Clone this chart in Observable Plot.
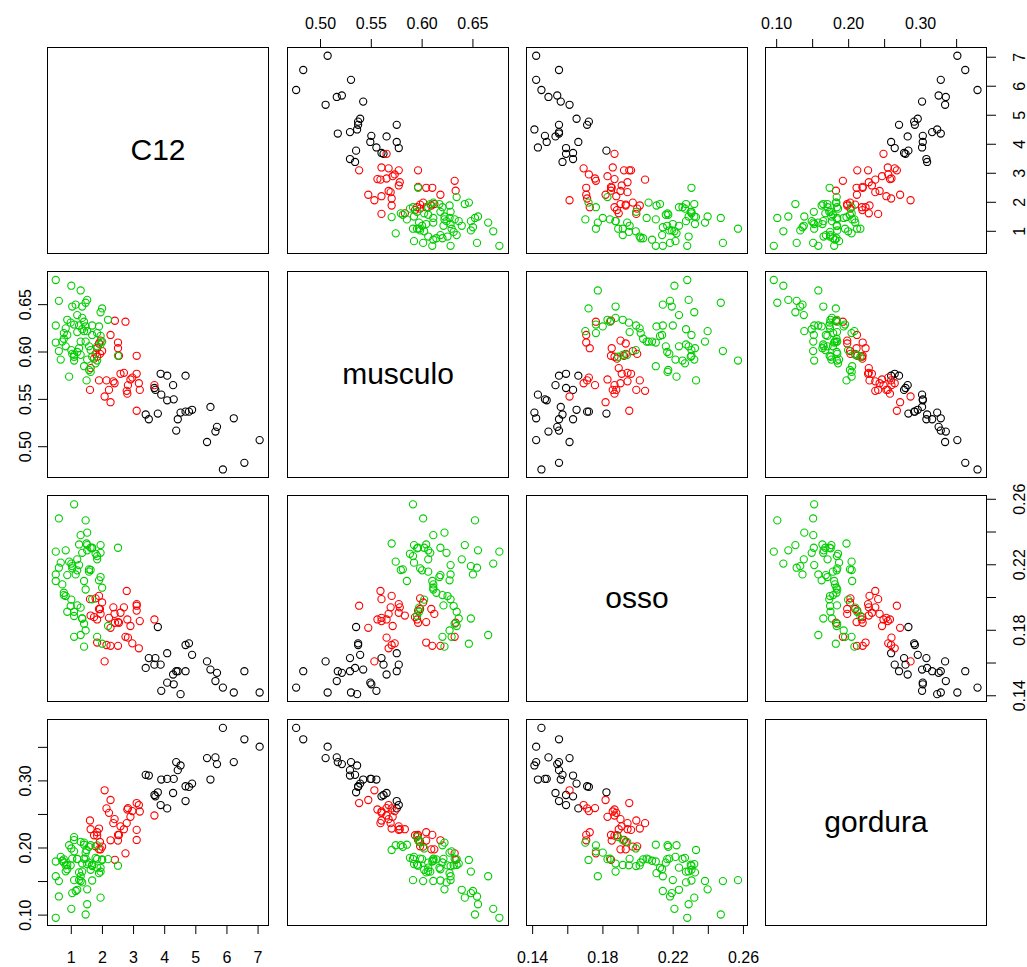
<!DOCTYPE html>
<html><head><meta charset="utf-8">
<script src="https://cdn.jsdelivr.net/npm/d3@7"></script>
<script src="https://cdn.jsdelivr.net/npm/@observablehq/plot@0.6"></script>
<style>
body{margin:0;background:#fff;}
#chart{position:relative;width:1027px;height:967px;overflow:hidden;background:#fff;}
#chart svg{position:absolute;overflow:visible;}
</style></head><body><div id="chart"></div>
<script>
const variables = ["C12", "musculo", "osso", "gordura"];
const groupNames = ["1", "2", "3"];
const groupColors = ["#000000", "#FF0000", "#00CD00"];

// group 1 (black)
const c12_g1 = [5.87,6.56,5.36,7.05,5.63,4.37,5.68,3.49,4.42,6.22,3.39,3.78,4.51,4.67,4.78,4.88,5.47,4.08,4.29,3.89,3.70,3.67,4.27,3.87,4.08,4.67];
const musculo_g1 = [.476,.483,.505,.507,.516,.517,.521,.529,.529,.530,.534,.535,.536,.537,.537,.539,.542,.549,.550,.555,.560,.562,.565,.577,.575,.575];
const osso_g1 = [.145,.155,.161,.142,.149,.155,.154,.163,.155,.142,.157,.182,.141,.171,.172,.165,.156,.148,.147,.143,.163,.159,.153,.159,.166,.155];
const gordura_g1 = [.379,.362,.334,.351,.335,.328,.325,.308,.316,.328,.309,.283,.323,.292,.291,.296,.302,.303,.303,.302,.277,.279,.282,.264,.259,.270];

// group 2 (red)
const c12_g2 = [3.10,2.26,2.07,2.80,2.78,1.60,3.20,2.21,2.82,3.67,2.39,3.17,2.35,1.89,2.13,2.90,2.96,2.58,3.10,2.69,1.62,1.73,1.83,3.10,2.53,1.78,1.92,1.99,1.83,2.50,1.89,2.50,1.94,2.26,2.74,2.40];
const musculo_g2 = [.538,.547,.553,.556,.559,.560,.560,.560,.565,.565,.567,.567,.569,.570,.570,.571,.573,.577,.577,.578,.583,.593,.595,.596,.596,.598,.598,.601,.604,.604,.609,.610,.612,.618,.632,.633];
const osso_g2 = [.195,.1815,.161,.1866,.204,.199,.1856,.1876,.1755,.1866,.190,.169,.194,.201,.171,.1826,.172,.1907,.196,.194,.189,.188,.1866,.192,.1846,.1995,.193,.197,.1725,.185,.193,.1705,.190,.1705,.176,.1846];
const gordura_g2 = [.267,.2715,.286,.2574,.237,.241,.2544,.2524,.2595,.2484,.243,.264,.237,.229,.259,.2464,.255,.2323,.227,.228,.228,.219,.2184,.212,.2194,.2025,.209,.202,.2235,.211,.198,.2195,.198,.2115,.192,.1824];

// group 3 (green)
const c12_g3 = [0.50,1.00,1.30,1.51,0.60,1.46,1.14,1.35,1.03,1.99,1.94,1.19,1.35,2.18,0.87,1.41,0.98,1.09,0.50,1.25,1.67,1.46,1.89,0.82,1.35,1.41,1.51,1.19,0.76,1.83,0.87,1.67,1.94,0.76,0.71,1.30,1.46,1.99,0.50,1.94,1.57,0.82,1.83,1.25,1.62,1.00,0.60,1.19,1.03,1.09,1.30,2.50,1.09,1.67,0.66,1.51,1.09,1.83,1.78,1.41,1.57,1.62,0.93,1.49];
const musculo_g3 = [.676,.670,.665,.655,.654,.652,.650,.648,.648,.646,.642,.639,.636,.634,.634,.632,.631,.629,.628,.628,.628,.627,.627,.625,.624,.622,.622,.621,.620,.620,.618,.618,.617,.614,.611,.611,.611,.611,.610,.608,.606,.606,.606,.604,.602,.602,.601,.600,.598,.597,.597,.596,.595,.595,.592,.592,.591,.591,.588,.585,.581,.579,.574,.570];
const osso_g3 = [.2280,.2207,.1771,.2288,.2182,.2471,.2141,.1872,.2192,.1718,.2320,.2233,.1872,.1826,.1913,.1840,.1948,.1760,.2141,.2198,.1989,.1799,.2105,.2009,.2273,.1700,.2396,.1952,.2015,.1760,.2137,.2304,.2125,.2029,.2080,.2381,.2049,.2060,.2101,.2273,.2158,.2288,.2233,.2324,.2304,.1987,.2483,.2166,.2178,.1913,.1938,.2304,.1887,.2300,.2213,.2320,.2569,.2253,.2267,.2101,.2172,.2168,.2219,.2330];
const gordura_g3 = [.0960,.1093,.1579,.1162,.1278,.1009,.1359,.1648,.1328,.1822,.1260,.1377,.1768,.1834,.1747,.1840,.1742,.1950,.1579,.1522,.1731,.1931,.1625,.1741,.1487,.2080,.1384,.1838,.1785,.2040,.1683,.1516,.1705,.1831,.1810,.1509,.1841,.1830,.1799,.1647,.1782,.1652,.1707,.1636,.1676,.1993,.1507,.1834,.1842,.2117,.2092,.1736,.2163,.1750,.1867,.1760,.1521,.1837,.1853,.2049,.2018,.2042,.2041,.1970];

// axis ticks and labelled ticks per variable
const ticksC12 = [1, 2, 3, 4, 5, 6, 7];
const labelsC12 = [1, 2, 3, 4, 5, 6, 7];
const ticksMusculo = [0.50, 0.55, 0.60, 0.65];
const labelsMusculo = [0.50, 0.55, 0.60, 0.65];
const ticksOsso = [0.14, 0.16, 0.18, 0.20, 0.22, 0.24, 0.26];
const labelsOsso = [0.14, 0.18, 0.22, 0.26];
const ticksGordura = [0.10, 0.15, 0.20, 0.25, 0.30, 0.35];
const labelsGordura = [0.10, 0.20, 0.30];

// ---- build table ----
const groupsData = [
  [c12_g1, musculo_g1, osso_g1, gordura_g1],
  [c12_g2, musculo_g2, osso_g2, gordura_g2],
  [c12_g3, musculo_g3, osso_g3, gordura_g3]
];
const rows = [];
groupsData.forEach((arrs, g) => {
  arrs[0].forEach((_, i) => {
    rows.push({grupo: groupNames[g], C12: arrs[0][i], musculo: arrs[1][i], osso: arrs[2][i], gordura: arrs[3][i]});
  });
});

const domains = {C12: [0.235, 7.335], musculo: [0.4675, 0.685], osso: [0.1365, 0.2623], gordura: [0.0845, 0.3915]};
const tickSets = {C12: ticksC12, musculo: ticksMusculo, osso: ticksOsso, gordura: ticksGordura};
const labelSets = {C12: labelsC12, musculo: labelsMusculo, osso: labelsOsso, gordura: labelsGordura};
const fmts = {C12: d3.format("d"), musculo: d3.format(".2f"), osso: d3.format(".2f"), gordura: d3.format(".2f")};
const tickFormatFor = v => d => labelSets[v].some(l => Math.abs(l - d) < 1e-9) ? fmts[v](d) : "";

const W = 221, H = 206, M = 60;
const lefts = [47, 287, 526, 765];
const tops = [47, 271, 495, 719];
const FONT = "'Liberation Sans', Arial, Helvetica, sans-serif";
const container = document.getElementById("chart");

for (let i = 0; i < 4; i++) {
  for (let j = 0; j < 4; j++) {
    const vx = variables[j], vy = variables[i];
    const marks = [Plot.frame({stroke: "black", strokeWidth: 1})];
    if (i === j) {
      marks.push(Plot.text([vx], {frameAnchor: "middle", text: d => d, fontSize: 30, fill: "black"}));
    } else {
      marks.push(Plot.dot(rows, {x: vx, y: vy, stroke: "grupo", r: 3.6, strokeWidth: 1.1, fill: "none"}));
    }
    // axes as in R pairs()
    if (i === 3 && j % 2 === 0) {
      marks.push(Plot.axisX({anchor: "bottom", label: null, ticks: tickSets[vx], tickFormat: tickFormatFor(vx), tickSize: 9, tickPadding: 17, fontSize: 16}));
    }
    if (i === 0 && j % 2 === 1) {
      marks.push(Plot.axisX({anchor: "top", label: null, ticks: tickSets[vx], tickFormat: tickFormatFor(vx), tickSize: 9, tickPadding: 10, fontSize: 16}));
    }
    if (j === 0 && i % 2 === 1) {
      marks.push(Plot.axisY({anchor: "left", label: null, ticks: tickSets[vy], tickFormat: tickFormatFor(vy), tickSize: 9, tickPadding: 8, tickRotate: -90, fontSize: 16}));
    }
    if (j === 3 && i % 2 === 0) {
      marks.push(Plot.axisY({anchor: "right", label: null, ticks: tickSets[vy], tickFormat: tickFormatFor(vy), tickSize: 9, tickPadding: 18, tickRotate: -90, lineAnchor: "top", fontSize: 16}));
    }
    const svg = Plot.plot({
      width: W + 2 * M, height: H + 2 * M,
      marginTop: M, marginBottom: M, marginLeft: M, marginRight: M,
      x: {domain: domains[vx], axis: null},
      y: {domain: domains[vy], axis: null},
      color: {domain: groupNames, range: groupColors},
      style: {fontFamily: FONT, fontSize: "16px", background: "transparent", color: "black", overflow: "visible"},
      marks
    });
    svg.style.left = (lefts[j] - M) + "px";
    svg.style.top = (tops[i] - M) + "px";
    container.appendChild(svg);
  }
}
</script></body></html>
